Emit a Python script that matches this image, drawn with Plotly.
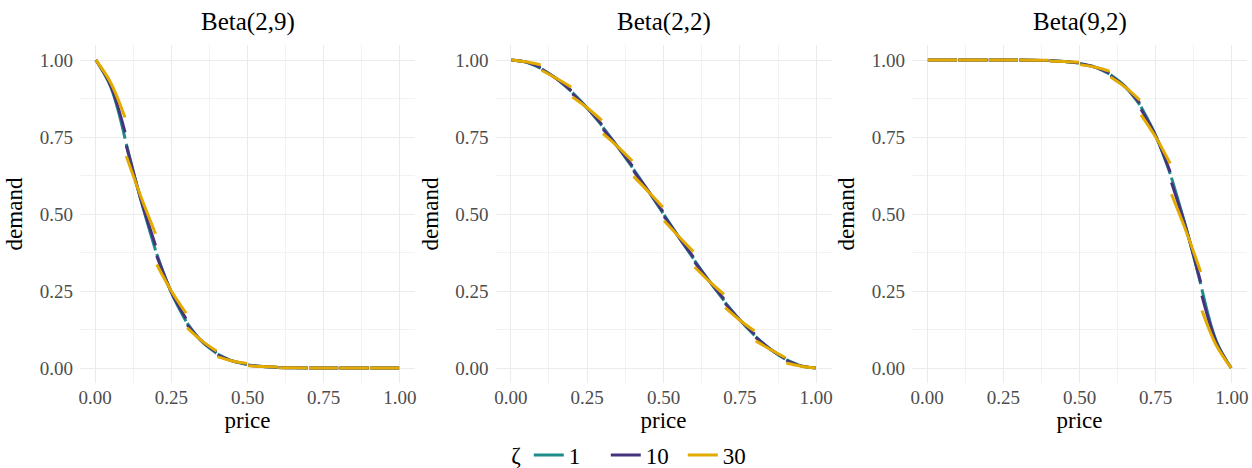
import plotly.graph_objects as go

# ---------------- data ----------------
PANELS = ["Beta(2,9)", "Beta(2,2)", "Beta(9,2)"]
ZETA = ["1", "10", "30"]
COLORS = ["#1F8C89", "#46337E", "#E3AA00"]
BIN_STARTS = [0.0, 0.1, 0.2, 0.3, 0.4, 0.5, 0.6, 0.7, 0.8, 0.9]
BIN_OFFSETS = [0.002, 0.05, 0.098]   # start, middle, end of each price bin
TICK_VALS = [0.0, 0.25, 0.5, 0.75, 1.0]
TICK_TEXT = ["0.00", "0.25", "0.50", "0.75", "1.00"]

# demand values per bin: [start, mid, end] x 10 bins
B29_Z1 = [1.000, 0.915, 0.745, 0.728, 0.545, 0.382, 0.370, 0.245, 0.152,
          0.146, 0.086, 0.048, 0.045, 0.023, 0.011, 0.010, 0.0045, 0.0018,
          0.0017, 0.0005, 0.0002, 0.0001, 0.0, 0.0, 0.0, 0.0, 0.0, 0.0, 0.0, 0.0]
B29_Z10 = [1.000, 0.918, 0.765, 0.722, 0.547, 0.398, 0.364, 0.246, 0.160,
           0.140, 0.087, 0.052, 0.042, 0.023, 0.013, 0.009, 0.0046, 0.0022,
           0.0015, 0.0005, 0.0002, 0.0001, 0.0, 0.0, 0.0, 0.0, 0.0, 0.0, 0.0, 0.0]
B29_Z30 = [1.000, 0.928, 0.813, 0.688, 0.556, 0.436, 0.336, 0.250, 0.178,
           0.130, 0.088, 0.055, 0.036, 0.023, 0.015, 0.007, 0.0045, 0.003,
           0.001, 0.0005, 0.0003, 0.0001, 0.0, 0.0, 0.0, 0.0, 0.0, 0.0, 0.0, 0.0]

B22_Z1 = [1.000, 0.993, 0.973, 0.971, 0.939, 0.898, 0.894, 0.844, 0.787,
          0.781, 0.718, 0.651, 0.645, 0.575, 0.503, 0.497, 0.425, 0.355,
          0.349, 0.282, 0.219, 0.213, 0.156, 0.106, 0.102, 0.061, 0.029,
          0.027, 0.007, 0.000]
B22_Z10 = [1.000, 0.993, 0.976, 0.969, 0.939, 0.901, 0.890, 0.844, 0.791,
           0.776, 0.718, 0.656, 0.640, 0.575, 0.508, 0.492, 0.425, 0.360,
           0.344, 0.282, 0.224, 0.209, 0.156, 0.110, 0.099, 0.061, 0.031,
           0.024, 0.007, 0.000]
B22_Z30 = [1.000, 0.994, 0.984, 0.966, 0.940, 0.912, 0.880, 0.845, 0.804,
           0.761, 0.719, 0.672, 0.622, 0.573, 0.522, 0.478, 0.427, 0.378,
           0.328, 0.281, 0.239, 0.196, 0.155, 0.120, 0.088, 0.060, 0.034,
           0.016, 0.006, 0.000]

B92_Z1 = [1.0, 1.0, 1.0, 1.0, 1.0, 1.0, 1.0, 1.0, 0.9999,
          0.9998, 0.9995, 0.9983, 0.9982, 0.9955, 0.990, 0.989, 0.977, 0.955,
          0.952, 0.914, 0.854, 0.848, 0.755, 0.630, 0.618, 0.455, 0.272,
          0.255, 0.085, 0.000]
B92_Z10 = [1.0, 1.0, 1.0, 1.0, 1.0, 1.0, 1.0, 1.0, 0.9999,
           0.9998, 0.9995, 0.9985, 0.9978, 0.9954, 0.991, 0.987, 0.977, 0.958,
           0.948, 0.913, 0.860, 0.840, 0.754, 0.636, 0.602, 0.453, 0.278,
           0.235, 0.082, 0.000]
B92_Z30 = [1.0, 1.0, 1.0, 1.0, 1.0, 1.0, 1.0, 1.0, 0.9999,
           0.9997, 0.9995, 0.999, 0.997, 0.9955, 0.993, 0.985, 0.977, 0.964,
           0.945, 0.912, 0.870, 0.822, 0.750, 0.664, 0.564, 0.444, 0.312,
           0.187, 0.072, 0.000]

SERIES = [
    [B29_Z1, B29_Z10, B29_Z30],
    [B22_Z1, B22_Z10, B22_Z30],
    [B92_Z1, B92_Z10, B92_Z30],
]

# ---------------- figure ----------------
W, H = 1252, 468
FONT = "Liberation Serif, Times New Roman, serif"
X_DOMAINS = [[80 / W, 415 / W], [495.5 / W, 831.5 / W], [912 / W, 1247 / W]]
Y_DOMAIN = [1 - 383.4 / H, 1 - 44.6 / H]

fig = go.Figure()

n = len(BIN_OFFSETS)
for p, series in enumerate(SERIES):
    ax = "" if p == 0 else str(p + 1)
    for s, vals in enumerate(series):
        xs, ys = [], []
        for b, x0 in enumerate(BIN_STARTS):
            for k, off in enumerate(BIN_OFFSETS):
                xs.append(x0 + off)
                ys.append(vals[b * n + k])
            xs.append(None)
            ys.append(None)
        fig.add_trace(go.Scatter(
            x=xs, y=ys, mode="lines",
            line=dict(color=COLORS[s], width=3, shape="spline"),
            name=ZETA[s], legendgroup=ZETA[s], showlegend=(p == 0),
            xaxis="x" + ax, yaxis="y" + ax, connectgaps=False,
            hoverinfo="skip",
        ))

layout = dict(
    width=W, height=H, autosize=False,
    margin=dict(l=0, r=0, t=0, b=0, autoexpand=False),
    paper_bgcolor="white", plot_bgcolor="white",
    font=dict(family=FONT, color="black"),
    showlegend=True,
    legend=dict(
        orientation="h", x=0.507, xanchor="center", y=1 - 455 / H, yanchor="middle",
        title=dict(text="ζ", side="left", font=dict(size=23, family=FONT)),
        font=dict(size=23, family=FONT, color="black"),
        itemwidth=30, tracegroupgap=0,
        entrywidth=32, entrywidthmode="pixels",
    ),
)

for p in range(3):
    ax = "" if p == 0 else str(p + 1)
    layout["xaxis" + ax] = dict(
        domain=X_DOMAINS[p], range=[-0.05, 1.05], anchor="y" + ax,
        tickvals=TICK_VALS, ticktext=TICK_TEXT,
        tickfont=dict(size=19, color="#4D4D4D", family=FONT),
        showgrid=True, gridcolor="#EBEBEB", gridwidth=1.4,
        minor=dict(showgrid=True, gridcolor="#F2F2F2", gridwidth=1, dtick=0.125, tick0=0.125),
        zeroline=False, showline=False, ticks="", ticklabelstandoff=1,
        title=dict(text="price", font=dict(size=23, family=FONT, color="black"), standoff=1),
        automargin=False, fixedrange=True,
    )
    layout["yaxis" + ax] = dict(
        domain=Y_DOMAIN, range=[-0.05, 1.05], anchor="x" + ax,
        tickvals=TICK_VALS, ticktext=TICK_TEXT,
        tickfont=dict(size=19, color="#4D4D4D", family=FONT),
        showgrid=True, gridcolor="#EBEBEB", gridwidth=1.4,
        minor=dict(showgrid=True, gridcolor="#F2F2F2", gridwidth=1, dtick=0.125, tick0=0.125),
        zeroline=False, showline=False, ticks="", ticklabelstandoff=6,
        title=dict(text="demand", font=dict(size=23, family=FONT, color="black"), standoff=10),
        automargin=False, fixedrange=True,
    )

annotations = []
for p, name in enumerate(PANELS):
    annotations.append(dict(
        text=name, x=(X_DOMAINS[p][0] + X_DOMAINS[p][1]) / 2, y=1 - 22 / H,
        xref="paper", yref="paper", xanchor="center", yanchor="middle",
        showarrow=False, font=dict(size=25, family=FONT, color="black"),
    ))
layout["annotations"] = annotations

fig.update_layout(**layout)
fig.write_html(
    "out.html",
    config={"displayModeBar": False, "responsive": False},
    default_width="1252px", default_height="468px",
    post_script="document.body.style.margin='0';",
)
